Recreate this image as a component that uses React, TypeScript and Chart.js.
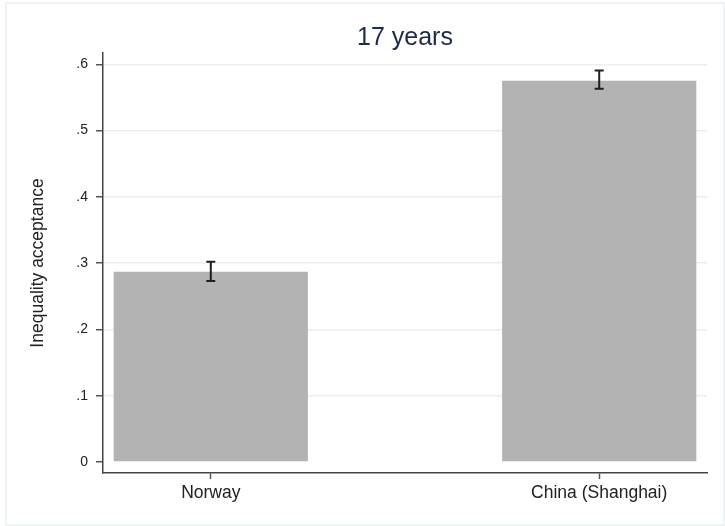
import React, { useEffect, useRef } from "react";
import { Chart, registerables } from "chart.js";

Chart.register(...registerables);

const categories = ["Norway", "China (Shanghai)"];
const positions = [1, 2];
const means = [0.287, 0.575];
const ciLow = [0.273, 0.563];
const ciHigh = [0.302, 0.5905];
const yTicks = [0, 0.1, 0.2, 0.3, 0.4, 0.5, 0.6];
const yTickLabels = ["0", ".1", ".2", ".3", ".4", ".5", ".6"];
const titleText = "17 years";
const yTitleText = "Inequality acceptance";

const FONT = '"Liberation Sans", Arial, sans-serif';

const decorPlugin = {
  id: "decor",
  beforeDraw(chart: any) {
    const ctx = chart.ctx;
    ctx.save();
    ctx.fillStyle = "#ffffff";
    ctx.fillRect(0, 0, chart.width, chart.height);
    ctx.strokeStyle = "#e9eff1";
    ctx.lineWidth = 1.5;
    ctx.strokeRect(6, 3, 718, 522);
    ctx.restore();
  },
  afterDatasetsDraw(chart: any) {
    const ctx = chart.ctx;
    const xs = chart.scales.x;
    const ys = chart.scales.y;
    ctx.save();
    ctx.strokeStyle = "#1f1f1f";
    ctx.lineWidth = 2;
    for (let i = 0; i < positions.length; i++) {
      const x = xs.getPixelForValue(positions[i]);
      const yl = ys.getPixelForValue(ciLow[i]);
      const yh = ys.getPixelForValue(ciHigh[i]);
      ctx.beginPath();
      ctx.moveTo(x, yl);
      ctx.lineTo(x, yh);
      ctx.moveTo(x - 4.5, yl);
      ctx.lineTo(x + 4.5, yl);
      ctx.moveTo(x - 4.5, yh);
      ctx.lineTo(x + 4.5, yh);
      ctx.stroke();
    }
    ctx.restore();
  },
  afterDraw(chart: any) {
    const ctx = chart.ctx;
    const ca = chart.chartArea;
    ctx.save();
    ctx.fillStyle = "#1c2b4a";
    ctx.font = `25px ${FONT}`;
    ctx.textAlign = "center";
    ctx.textBaseline = "alphabetic";
    ctx.fillText(titleText, (ca.left + ca.right) / 2, 45);
    ctx.fillStyle = "#222222";
    ctx.font = `17.5px ${FONT}`;
    ctx.translate(43, (ca.top + ca.bottom) / 2);
    ctx.rotate(-Math.PI / 2);
    ctx.textAlign = "center";
    ctx.textBaseline = "alphabetic";
    ctx.fillText(yTitleText, 0, 0);
    ctx.restore();
  },
};

export default function App() {
  const ref = useRef<HTMLCanvasElement | null>(null);

  useEffect(() => {
    if (!ref.current) return;
    const chart = new Chart(ref.current, {
      type: "bar",
      data: {
        datasets: [
          {
            data: positions.map((p, i) => ({ x: p, y: means[i] })),
            backgroundColor: "#b3b3b3",
            borderWidth: 0,
            categoryPercentage: 1,
            barPercentage: 0.5,
          },
        ],
      },
      options: {
        animation: false,
        responsive: false,
        devicePixelRatio: 1,
        layout: { padding: { top: 53, right: 18, bottom: 0, left: 0 } },
        plugins: {
          legend: { display: false },
          title: { display: false },
          tooltip: { enabled: false },
        },
        scales: {
          x: {
            type: "linear",
            offset: false,
            min: 0.7225,
            max: 2.2775,
            afterBuildTicks: (scale: any) => {
              scale.ticks = positions.map((v) => ({ value: v }));
            },
            afterFit: (scale: any) => {
              scale.height = 53;
            },
            ticks: {
              callback: (v: any) => categories[positions.indexOf(Number(v))],
              font: { family: FONT, size: 17.5 },
              color: "#222222",
              padding: 4,
              maxRotation: 0,
              autoSkip: false,
            },
            grid: {
              offset: false,
              drawOnChartArea: false,
              drawTicks: true,
              tickLength: 6,
              tickColor: "#555555",
              tickWidth: 1.5,
            },
            border: { display: true, color: "#444444", width: 1.5 },
          },
          y: {
            min: -0.0166,
            max: 0.617,
            afterBuildTicks: (scale: any) => {
              scale.ticks = yTicks.map((v) => ({ value: v }));
            },
            afterFit: (scale: any) => {
              scale.width = 103;
            },
            ticks: {
              callback: (v: any) => yTickLabels[yTicks.indexOf(Number(v))],
              font: { family: FONT, size: 14 },
              color: "#222222",
              padding: 8,
            },
            grid: {
              color: (c: any) =>
                c.tick && c.tick.value === 0 ? "rgba(0,0,0,0)" : "#e8f0f2",
              lineWidth: 1.5,
              drawTicks: true,
              tickLength: 7,
              tickColor: "#555555",
              tickWidth: 1.5,
            },
            border: { display: true, color: "#444444", width: 1.5 },
          },
        },
      },
      plugins: [decorPlugin],
    } as any);
    return () => chart.destroy();
  }, []);

  return (
    <div style={{ position: "absolute", left: 0, top: 0, width: 725, height: 526 }}>
      <canvas ref={ref} width={725} height={526} style={{ display: "block" }} />
    </div>
  );
}
